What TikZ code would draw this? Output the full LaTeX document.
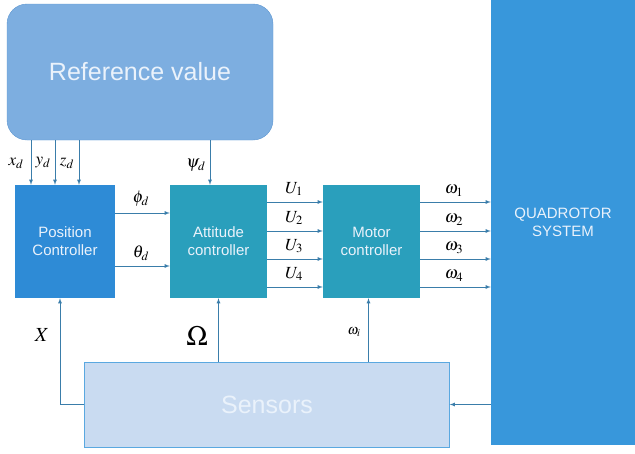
\documentclass[tikz,border=0pt]{standalone}
\usepackage{mathptmx}
\usepackage{fontspec}
\setsansfont{Liberation Sans}
\usepackage{tikz}

\definecolor{refblue}{HTML}{7DAEE0}
\definecolor{refline}{HTML}{5E97D1}
\definecolor{posblue}{HTML}{2E8BD6}
\definecolor{ctrlteal}{HTML}{2A9FBC}
\definecolor{quadblue}{HTML}{3897DB}
\definecolor{sensblue}{HTML}{C9DBF1}
\definecolor{sensline}{HTML}{5AA8E0}
\definecolor{arrowblue}{HTML}{3A7DAA}
\definecolor{boxtext}{HTML}{EAF2FB}

\tikzset{
	block/.style={shape=rectangle, text=boxtext, align=center, inner sep=0pt,
		font=\sffamily\fontsize{15}{18}\selectfont},
	ctrl/.style={block, fill=ctrlteal, minimum width=97pt, minimum height=113pt},
	arr/.style={-latex, arrowblue, line width=0.8pt},
	lbl/.style={font=\fontsize{17}{19}\selectfont, inner sep=0pt}
}

\begin{document}
\begin{tikzpicture}[x=1pt, y=-1pt]
	
	\useasboundingbox (0,0) rectangle (635,453);
	
	\node[block, fill=refblue, draw=refline, rounded corners=20pt, minimum width=266pt, minimum height=136pt,
		font=\sffamily\fontsize{25}{30}\selectfont] (ref) at (140, 72) {Reference value};
	\node[block, fill=posblue, minimum width=100pt, minimum height=113pt] (pos) at (65, 241.5) {Position\\Controller};
	\node[ctrl] (att) at (218.5, 241.5) {Attitude\\controller};
	\node[ctrl] (mot) at (371.5, 241.5) {Motor\\controller};
	\node[block, fill=quadblue, minimum width=144pt, minimum height=445pt] (quad) at (563, 222.5) {QUADROTOR\\SYSTEM};
	\node[block, fill=sensblue, draw=sensline, minimum width=365pt, minimum height=85pt,
		font=\sffamily\fontsize{25}{30}\selectfont] (sens) at (267, 404.5) {Sensors};
	
	% reference inputs
	\foreach \x/\name in {31/x, 55/y, 79/z}
		\draw[arr] (ref.south -| \x,0) -- (pos.north -| \x,0);
	\draw[arr] (ref.south -| 210,0) -- (att.north -| 210,0);
	\node[lbl] (xd) at (16, 163) {$x_d$};
	\node[lbl] (yd) at (43, 163) {$y_d$};
	\node[lbl] (zd) at (67, 163) {$z_d$};
	\node[lbl] (psid) at (196, 165) {$\psi_d$};
	
	% position -> attitude
	\draw[arr] (pos.east |- 0,213) -- (att.west |- 0,213);
	\draw[arr] (pos.east |- 0,266) -- (att.west |- 0,266);
	\node[lbl] (phid) at (141, 199) {$\phi_d$};
	\node[lbl] (thetad) at (141, 253) {$\theta_d$};
	
	% attitude -> motor, motor -> quadrotor
	\foreach \y/\i in {202/1, 231/2, 259/3, 287/4} {
		\draw[arr] (att.east |- 0,\y) -- (mot.west |- 0,\y);
		\node[lbl] (U\i) at (294, \y-13) {$U_\i$};
		\draw[arr] (mot.east |- 0,\y) -- (quad.west |- 0,\y);
		\node[lbl] (w\i) at (454, \y-11) {$\omega_\i$};
	}
	
	% feedback
	\draw[arr] (sens.west) -| ([xshift=-5pt]pos.south);
	\draw[arr] (sens.north -| att.south) -- (att.south);
	\coordinate (mfb) at ([xshift=-3pt]mot.south);
	\draw[arr] (sens.north -| mfb) -- (mfb);
	\draw[arr] (quad.west |- sens.east) -- (sens.east);
	\node[lbl, font=\fontsize{20}{22}\selectfont] (X) at (42, 335) {$X$};
	\node[lbl, font=\fontsize{28}{30}\selectfont] (Om) at (197, 336) {$\Omega$};
	\node[lbl, font=\fontsize{14}{16}\selectfont] (wi) at (354, 332) {$\omega_i$};
	
\end{tikzpicture}
\end{document}
